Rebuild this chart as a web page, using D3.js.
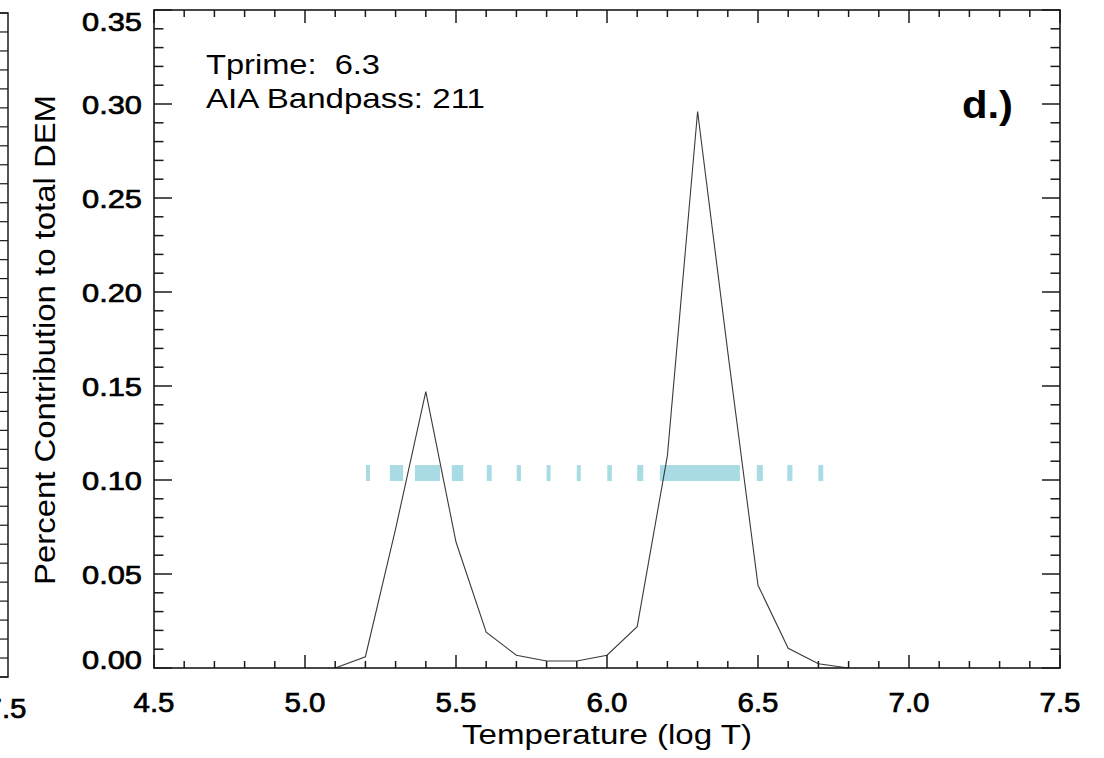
<!DOCTYPE html>
<html>
<head>
<meta charset="utf-8">
<script src="https://cdn.jsdelivr.net/npm/d3@7"></script>
<style>
  html, body { margin: 0; padding: 0; background: #fff; }
  svg { display: block; font-family: "Liberation Sans", Arial, Helvetica, sans-serif; }
  text { white-space: pre; }
</style>
</head>
<body>
<svg id="chart" width="1104" height="758"></svg>
<script>
// ---- data ----
const temps = [5.1, 5.2, 5.3, 5.4, 5.5, 5.6, 5.7, 5.8, 5.9, 6.0, 6.1, 6.2, 6.3, 6.4, 6.5, 6.6, 6.7, 6.8];
const contribution = [0.0, 0.006, 0.074, 0.147, 0.067, 0.019, 0.0068, 0.0037, 0.0037, 0.0068, 0.022, 0.113, 0.296, 0.168, 0.044, 0.0105, 0.0023, 0.0];
// bandpass marker segments (start / end in log T), drawn at one level
const bandStart = [5.202, 5.281, 5.364, 5.486, 5.602, 5.701, 5.800, 5.900, 6.001, 6.100, 6.175, 6.496, 6.597, 6.700];
const bandEnd   = [5.215, 5.325, 5.447, 5.524, 5.618, 5.715, 5.813, 5.913, 6.016, 6.120, 6.440, 6.516, 6.614, 6.716];
const bandLevel = 0.1037;
const xTickLabels = ["4.5", "5.0", "5.5", "6.0", "6.5", "7.0", "7.5"];
const yTickLabels = ["0.00", "0.05", "0.10", "0.15", "0.20", "0.25", "0.30", "0.35"];
const tprime = "6.3";
const bandpass = "211";
const panelLabel = "d.)";

// ---- layout ----
const svg = d3.select("#chart");
const L = 154, R = 1060, T = 10, B = 668;
const x = d3.scaleLinear().domain([4.5, 7.5]).range([L, R]);
const y = d3.scaleLinear().domain([0, 0.35]).range([B, T]);
const ink = "#1a1a1a";

// ---- partial neighbouring panel at the left edge ----
const gy = d3.scaleLinear().domain([0, 0.35]).range([677, 13]);
const ghost = svg.append("g");
ghost.append("path")
  .attr("d", `M0,${gy(0.35)}H8V${gy(0)}H0`)
  .attr("fill", "none").attr("stroke", ink).attr("stroke-width", 1.5);
ghost.selectAll("line.gt").data(d3.range(0, 36).map(i => i / 100)).join("line")
  .attr("x1", 0).attr("x2", 8)
  .attr("y1", d => gy(d)).attr("y2", d => gy(d))
  .attr("stroke", ink).attr("stroke-width", 1.2);
ghost.append("text").attr("x", 6).attr("y", 718)
  .attr("text-anchor", "middle").attr("font-size", 27)
  .attr("textLength", 41).attr("lengthAdjust", "spacingAndGlyphs")
  .attr("fill", "#000").attr("stroke", "#000").attr("stroke-width", 0.7)
  .text("7.5");

// ---- bandpass marks ----
svg.append("g").selectAll("rect").data(bandStart.map((s, i) => [s, bandEnd[i]])).join("rect")
  .attr("x", d => x(d[0])).attr("width", d => x(d[1]) - x(d[0]))
  .attr("y", y(bandLevel) - 8).attr("height", 16)
  .attr("fill", "#a8dbe3");

// ---- curve ----
const line = d3.line().x(d => x(d[0])).y(d => y(d[1]));
svg.append("path")
  .datum(temps.map((t, i) => [t, contribution[i]]))
  .attr("d", line)
  .attr("fill", "none").attr("stroke", "#3a3a3a").attr("stroke-width", 1.1);

// ---- frame ----
svg.append("rect").attr("x", L).attr("y", T).attr("width", R - L).attr("height", B - T)
  .attr("fill", "none").attr("stroke", ink).attr("stroke-width", 1.6);

// ---- ticks ----
const xMinor = d3.range(45, 76).map(v => v / 10);
const yMinor = d3.range(0, 36).map(v => v / 100);
const isMajorX = v => Math.abs(v * 2 - Math.round(v * 2)) < 1e-6;
const isMajorY = v => Math.abs(v * 20 - Math.round(v * 20)) < 1e-6;
const tk = svg.append("g").attr("stroke", ink).attr("stroke-width", 1.5);
tk.selectAll("line.xb").data(xMinor).join("line")
  .attr("x1", d => x(d)).attr("x2", d => x(d))
  .attr("y1", B).attr("y2", d => B - (isMajorX(d) ? 13 : 7));
tk.selectAll("line.xt").data(xMinor).join("line")
  .attr("x1", d => x(d)).attr("x2", d => x(d))
  .attr("y1", T).attr("y2", d => T + (isMajorX(d) ? 13 : 7));
tk.selectAll("line.yl").data(yMinor).join("line")
  .attr("y1", d => y(d)).attr("y2", d => y(d))
  .attr("x1", L).attr("x2", d => L + (isMajorY(d) ? 18 : 9.5));
tk.selectAll("line.yr").data(yMinor).join("line")
  .attr("y1", d => y(d)).attr("y2", d => y(d))
  .attr("x1", R).attr("x2", d => R - (isMajorY(d) ? 18 : 9.5));

// ---- tick labels ----
svg.append("g").selectAll("text").data(xTickLabels).join("text")
  .attr("x", d => x(+d)).attr("y", 712)
  .attr("text-anchor", "middle").attr("font-size", 27)
  .attr("textLength", 41).attr("lengthAdjust", "spacingAndGlyphs")
  .attr("fill", "#000").attr("stroke", "#000").attr("stroke-width", 0.7)
  .text(d => d);
svg.append("g").selectAll("text").data(yTickLabels).join("text")
  .attr("x", 142)
  .attr("y", d => Math.min(Math.max(y(+d), 21), 659) + 9.5)
  .attr("text-anchor", "end").attr("font-size", 26)
  .attr("textLength", 60).attr("lengthAdjust", "spacingAndGlyphs")
  .attr("fill", "#000").attr("stroke", "#000").attr("stroke-width", 0.7)
  .text(d => d);

// ---- axis titles ----
svg.append("text").attr("x", (L + R) / 2).attr("y", 744)
  .attr("text-anchor", "middle").attr("font-size", 27)
  .attr("textLength", 290).attr("lengthAdjust", "spacingAndGlyphs")
  .attr("fill", "#000").text("Temperature (log T)");
svg.append("text")
  .attr("transform", `translate(55,${(T + B) / 2 + 1}) rotate(-90)`)
  .attr("text-anchor", "middle").attr("font-size", 30)
  .attr("textLength", 490).attr("lengthAdjust", "spacingAndGlyphs")
  .attr("fill", "#000").text("Percent Contribution to total DEM");

// ---- annotations ----
svg.append("text").attr("x", 206).attr("y", 74).attr("font-size", 28)
  .attr("textLength", 174).attr("lengthAdjust", "spacingAndGlyphs")
  .attr("fill", "#000").text("Tprime:  " + tprime);
svg.append("text").attr("x", 206).attr("y", 108).attr("font-size", 28)
  .attr("textLength", 279).attr("lengthAdjust", "spacingAndGlyphs")
  .attr("fill", "#000").text("AIA Bandpass: " + bandpass);
svg.append("text").attr("x", 962).attr("y", 118).attr("font-size", 38)
  .attr("font-weight", "bold")
  .attr("textLength", 51).attr("lengthAdjust", "spacingAndGlyphs")
  .attr("fill", "#000").text(panelLabel);
</script>
</body>
</html>
